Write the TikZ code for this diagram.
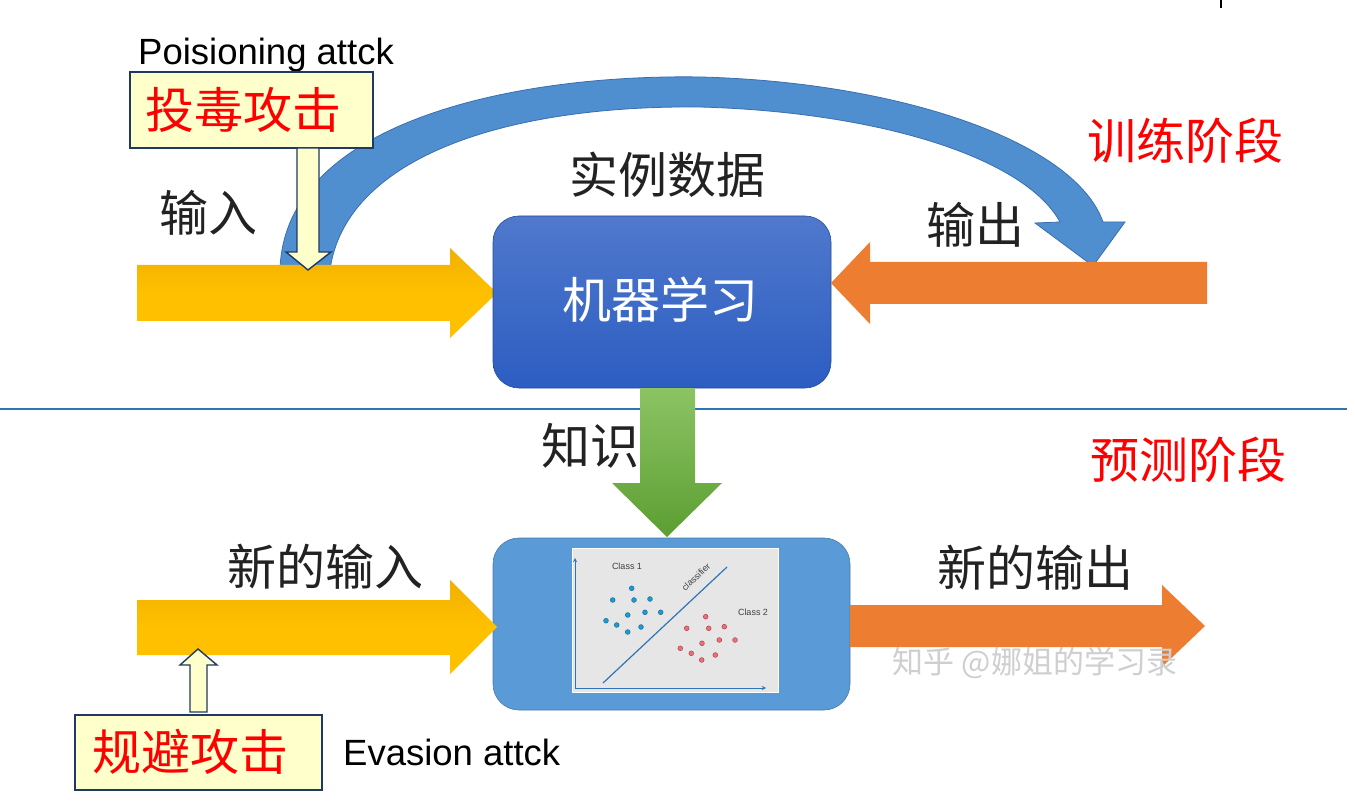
\documentclass[tikz,border=0pt]{standalone}
\usepackage{fontspec}
\setmainfont{Liberation Sans}
\newfontfamily\cjk{Noto Sans CJK SC}
\definecolor{goldA}{HTML}{FFC000}
\definecolor{goldB}{HTML}{F0B000}
\definecolor{orangeA}{HTML}{ED7D31}
\definecolor{greenA}{HTML}{8CC464}
\definecolor{greenB}{HTML}{5C9E32}
\definecolor{mlTop}{HTML}{5079CC}
\definecolor{mlBot}{HTML}{2C5DC2}
\definecolor{predBox}{HTML}{5A9AD6}
\definecolor{curveA}{HTML}{4F8FD0}
\definecolor{curveEdge}{HTML}{3A6EAE}
\definecolor{navy}{HTML}{1F3864}
\definecolor{paleY}{HTML}{FFFFCC}
\definecolor{lineBlue}{HTML}{2E75B6}
\definecolor{txt}{HTML}{222222}
\definecolor{panel}{HTML}{E6E6E6}
\definecolor{dotBlue}{HTML}{1E9BD7}
\definecolor{dotRed}{HTML}{E0505A}
\definecolor{wm}{HTML}{CFCFCF}
\begin{document}
\begin{tikzpicture}[x=1pt,y=-1pt,
  cjklabel/.style={font=\cjk\fontsize{49}{55}\selectfont, text=txt, inner sep=0pt},
  redlabel/.style={font=\cjk\fontsize{49}{55}\selectfont, text=red, inner sep=0pt},
  entext/.style={font=\fontsize{36.5}{42}\selectfont, text=black, inner sep=0pt},
  attackbox/.style={draw=navy, line width=1.6pt, fill=paleY, inner sep=0pt},
  hollow/.style={draw=navy, line width=1.4pt, fill=paleY},
  dotb/.style={fill=dotBlue, draw=dotBlue!70!black, line width=0.5pt},
  dotr/.style={fill=dotRed!80!white, draw=dotRed!80!black, line width=0.5pt},
  smalltxt/.style={font=\fontsize{9}{10}\selectfont, text=black!75, inner sep=0pt}]
\useasboundingbox (0,0) rectangle (1355,810);
\fill[white] (0,0) rectangle (1355,810);
% tick top right
\draw[black, line width=1.2pt] (1221,0) -- (1221,8);

% curved blue arrow (training loop)
\fill[curveA, draw=curveEdge, line width=0.8pt]
  (280,270) .. controls (284,120) and (520,74) .. (700,77)
  .. controls (900,82) and (1075,142) .. (1103,222)
  -- (1125,222) -- (1093,266) -- (1035,223) -- (1060,222)
  .. controls (1025,158) and (880,112) .. (700,107)
  .. controls (500,105) and (345,160) .. (330,270) -- cycle;

% top input arrow (yellow)
\shade[top color=goldB, bottom color=goldA, middle color=goldA]
  (137,265) -- (450,265) -- (450,248) -- (497,293) -- (450,338) -- (450,321) -- (137,321) -- cycle;

% ML box
\node[rounded corners=26pt, minimum width=338pt, minimum height=172pt, top color=mlTop, bottom color=mlBot, draw=mlBot!80!black, line width=0.6pt] (ml) at (662,302) {};
\node[font=\cjk\fontsize{49}{55}\selectfont, text=white, inner sep=0pt] (mltext) at (660,300) {机器学习};

% top output arrow (orange, pointing left)
\fill[orangeA] (1207,262) -- (870,262) -- (870,242) -- (831,283) -- (870,324) -- (870,304) -- (1207,304) -- cycle;

% labels top
\node[cjklabel] (shili) at (667,175) {实例数据};
\node[cjklabel] (shuru) at (208,213) {输入};
\node[cjklabel] (shuchu) at (975,225) {输出};
\node[redlabel] (train) at (1185,141) {训练阶段};

% poisoning
\node[entext, anchor=west] (poisen) at (138,55) {Poisioning attck};
\node[attackbox, minimum width=243pt, minimum height=76pt] (poison) at (251.5,110) {};
\node[redlabel] (poisontext) at (243,110) {投毒攻击};
\draw[hollow] (297,148) -- (319,148) -- (319,252) -- (331,252) -- (308,270) -- (286,252) -- (297,252) -- cycle;

% separator line
\draw[lineBlue, line width=1.5pt] (0,409) -- (1347,409);

% green knowledge arrow
\shade[top color=greenA, bottom color=greenB]
  (640,388) -- (695,388) -- (695,483) -- (722,483) -- (667,537) -- (612,483) -- (640,483) -- cycle;
\node[cjklabel] (zhishi) at (590,446) {知识};
\node[redlabel] (pred) at (1188,460) {预测阶段};

% prediction box
\node[rounded corners=26pt, minimum width=357pt, minimum height=172pt, fill=predBox, draw=predBox!80!black, line width=0.6pt] (predbox) at (671.5,624) {};
\fill[panel, draw=white, line width=0.8pt] (572,548) rectangle (778,692);
% axes
\draw[lineBlue, line width=0.9pt, -stealth] (575,688) -- (575,558);
\draw[lineBlue, line width=0.9pt, -stealth] (575,688) -- (766,688);
\draw[lineBlue, line width=1.2pt] (603,683) -- (727,567);
\node[smalltxt, rotate=43] (clf) at (696,577) {classifier};
\node[smalltxt] (c1) at (627,566) {Class 1};
\node[smalltxt] (c2) at (753,612) {Class 2};
\foreach \p in {(631.7,588.3),(612.7,600),(634,600),(650,599),(627.7,615),(645,612.3),(660.7,612.3),(606,620.7),(616.7,625),(641,627),(627.7,632)}
  \filldraw[dotb] \p circle (2.4pt);
\foreach \p in {(705.7,616.7),(686.7,628.3),(708.7,628.3),(724.3,626.7),(702,643.3),(719.3,640),(735,640),(680.3,648.3),(691.3,653.3),(715.3,655),(701.7,660)}
  \filldraw[dotr] \p circle (2.4pt);

% bottom input arrow
\shade[top color=goldB, bottom color=goldA, middle color=goldA]
  (137,600) -- (450,600) -- (450,580) -- (497,627) -- (450,674) -- (450,655) -- (137,655) -- cycle;
\node[cjklabel] (newin) at (325,567) {新的输入};

% bottom output arrow
\fill[orangeA] (850,605) -- (1162,605) -- (1162,585) -- (1205,626) -- (1162,667) -- (1162,647) -- (850,647) -- cycle;
\node[cjklabel] (newout) at (1035,568) {新的输出};
\node[font=\cjk\fontsize{31}{34}\selectfont, text=wm, inner sep=0pt] (water) at (1035,663) {知乎 @娜姐的学习录};

% evasion
\draw[hollow] (190,712) -- (207,712) -- (207,665) -- (217,665) -- (198,649) -- (180,665) -- (190,665) -- cycle;
\node[attackbox, minimum width=247pt, minimum height=75pt] (evade) at (198.5,752.5) {};
\node[redlabel] (evadetext) at (190,752) {规避攻击};
\node[entext, anchor=west] (evaen) at (343,752) {Evasion attck};
\end{tikzpicture}
\end{document}
